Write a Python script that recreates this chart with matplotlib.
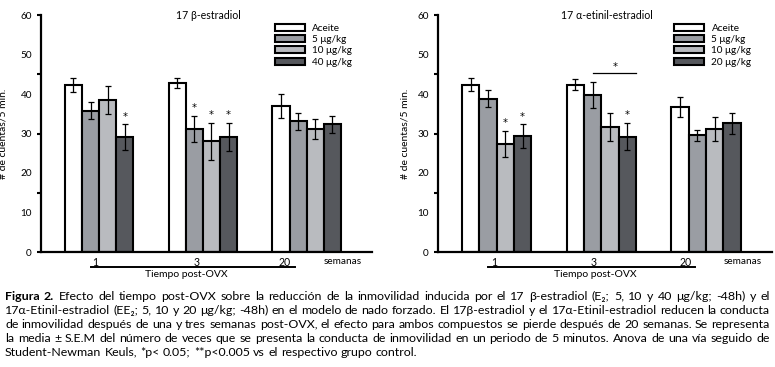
import numpy as np
import matplotlib
matplotlib.use('Agg')
import matplotlib.pyplot as plt
import matplotlib.transforms as mtransforms

plt.rcParams['font.family'] = ['Lato', 'DejaVu Sans']

# weeks after OVX
weeks = ['1', '3', '20']

# 17 beta-estradiol panel
e2_labels = ['Aceite', '5 μg/kg', '10 μg/kg', '40 μg/kg']
e2_aceite = [42.3, 42.8, 37.0]
e2_aceite_err = [1.7, 1.2, 3.0]
e2_5 = [35.8, 31.1, 33.1]
e2_5_err = [2.1, 3.3, 2.2]
e2_10 = [38.5, 28.0, 31.1]
e2_10_err = [3.5, 4.7, 2.6]
e2_40 = [29.0, 29.1, 32.3]
e2_40_err = [3.3, 3.5, 2.2]
e2_stars = [(0, 3), (1, 1), (1, 2), (1, 3)]   # (week index, dose index)

# 17 alpha-etinil-estradiol panel
ee2_labels = ['Aceite', '5 μg/kg', '10 μg/kg', '20 μg/kg']
ee2_aceite = [42.4, 42.4, 36.8]
ee2_aceite_err = [1.6, 1.4, 2.5]
ee2_5 = [38.8, 39.8, 29.5]
ee2_5_err = [2.2, 3.3, 1.5]
ee2_10 = [27.4, 31.6, 31.1]
ee2_10_err = [3.3, 3.5, 3.0]
ee2_20 = [29.3, 29.2, 32.6]
ee2_20_err = [3.0, 3.5, 2.7]
ee2_stars = [(0, 2), (0, 3), (1, 3)]
ee2_bracket = (1, 1, 3, 45.2)   # week, first dose, last dose, height

COLORS = ['#ffffff', '#9a9da3', '#b9bbbf', '#56585d']
BAR_W = 0.165
TXT = 7.2

caption = [
    ['**Figura', '**2.', 'Efecto', 'del', 'tiempo', 'post-OVX', 'sobre', 'la', 'reducción', 'de', 'la',
     'inmovilidad', 'inducida', 'por', 'el', '17', 'β-estradiol', '(E₂;', '5,', '10', 'y', '40',
     'μg/kg;', '-48h)', 'y', 'el'],
    ['17α-Etinil-estradiol', '(EE₂;', '5,', '10', 'y', '20', 'μg/kg;', '-48h)', 'en', 'el', 'modelo',
     'de', 'nado', 'forzado.', 'El', '17β-estradiol', 'y', 'el', '17α-Etinil-estradiol', 'reducen',
     'la', 'conducta'],
    ['de', 'inmovilidad', 'después', 'de', 'una', 'y', 'tres', 'semanas', 'post-OVX,', 'el', 'efecto',
     'para', 'ambos', 'compuestos', 'se', 'pierde', 'después', 'de', '20', 'semanas.', 'Se',
     'representa'],
    ['la', 'media', '±', 'S.E.M', 'del', 'número', 'de', 'veces', 'que', 'se', 'presenta', 'la',
     'conducta', 'de', 'inmovilidad', 'en', 'un', 'periodo', 'de', '5', 'minutos.', 'Anova', 'de',
     'una', 'vía', 'seguido', 'de'],
    ['Student-Newman', 'Keuls,', '*p<', '0.05;', '**p<0.005', 'vs', 'el', 'respectivo', 'grupo',
     'control.'],
]


def panel(ax, title, labels, means, errs, stars, tick_pos, tiempo_x, bracket=None):
    x = np.arange(len(weeks))
    for i, (m, e) in enumerate(zip(means, errs)):
        xi = x + (i - 1.5) * BAR_W
        ax.bar(xi, m, width=BAR_W, color=COLORS[i], edgecolor='black', linewidth=1.5,
               label=labels[i], zorder=2)
        ax.errorbar(xi, m, yerr=e, fmt='none', ecolor='black', elinewidth=0.9,
                    capsize=2.2, capthick=0.9, zorder=3)
    for g, d in stars:
        top = means[d][g] + errs[d][g]
        ax.text(x[g] + (d - 1.5) * BAR_W, top + 1.2, '*', ha='center', va='baseline',
                fontsize=TXT, family='DejaVu Sans')
    if bracket:
        g, d0, d1, h = bracket
        ax.plot([x[g] + (d0 - 1.5) * BAR_W, x[g] + (d1 - 1.5) * BAR_W + BAR_W / 2], [h, h],
                color='black', lw=0.9)
        ax.text(x[g] + 0.13, h + 0.8, '*', ha='center', va='baseline', fontsize=TXT,
                family='DejaVu Sans')

    ax.set_xlim(-0.56, 2.63)
    ax.set_ylim(0, 60)
    for s in ['top', 'right']:
        ax.spines[s].set_visible(False)
    for s in ['left', 'bottom']:
        ax.spines[s].set_linewidth(1.6)

    # labels every 10, tick marks every 15
    ax.yaxis.remove_overlapping_locs = False
    ax.set_yticks(np.arange(0, 61, 10))
    ax.set_yticklabels([str(v) for v in range(0, 61, 10)])
    ax.set_yticks([0, 15, 30, 45, 60], minor=True)
    ax.tick_params(axis='y', which='major', length=0, pad=6.5, labelsize=TXT)
    ax.tick_params(axis='y', which='minor', length=3, width=1.5, direction='out')
    ax.set_xticks(tick_pos)
    ax.set_xticklabels(weeks)
    ax.tick_params(axis='x', length=0, pad=3.5, labelsize=TXT + 0.4)

    ax.set_ylabel('# de cuentas/5 min.', fontsize=TXT + 0.3)
    ax.text(1.05, 60, title, ha='center', va='center', fontsize=TXT + 0.4)

    tr = mtransforms.blended_transform_factory(ax.transData, ax.transAxes)
    ax.text(2.35, -0.038, 'semanas', transform=tr, ha='center', va='center', fontsize=TXT)
    ax.plot([-0.08, 1.89], [-0.063, -0.063], transform=tr, color='black', lw=1.4,
            clip_on=False)
    ax.text(tiempo_x, -0.097, 'Tiempo post-OVX', transform=tr, ha='center', va='center',
            fontsize=TXT + 0.3)

    leg = ax.legend(loc='upper left', bbox_to_anchor=(0.708, 0.962), frameon=False,
                    fontsize=TXT, handlelength=3.0, handleheight=0.7, labelspacing=0.22,
                    handletextpad=0.7, borderpad=0, borderaxespad=0)
    for p in leg.get_patches():
        p.set_linewidth(1.5)


fig = plt.figure(figsize=(7.75, 3.67), dpi=100)
ax1 = fig.add_axes([41 / 775, 1 - 252 / 367, 331 / 775, 237 / 367])
ax2 = fig.add_axes([438 / 775, 1 - 252 / 367, 334 / 775, 237 / 367])

panel(ax1, '17 β-estradiol', e2_labels,
      [e2_aceite, e2_5, e2_10, e2_40],
      [e2_aceite_err, e2_5_err, e2_10_err, e2_40_err],
      e2_stars, [-0.04, 0.94, 1.79], 0.84)
panel(ax2, '17 α-etinil-estradiol', ee2_labels,
      [ee2_aceite, ee2_5, ee2_10, ee2_20],
      [ee2_aceite_err, ee2_5_err, ee2_10_err, ee2_20_err],
      ee2_stars, [-0.02, 0.93, 1.80], 0.94, bracket=ee2_bracket)
ax1.yaxis.set_label_coords(-0.10, 0.5)
ax2.yaxis.set_label_coords(-0.084, 0.5)

# justified caption, word by word
fig.canvas.draw()
renderer = fig.canvas.get_renderer()
x_left, x_right = 5 / 775, 770 / 775
for li, words in enumerate(caption):
    y = 1 - (296 + li * 14) / 367
    texts = []
    for w in words:
        bold = w.startswith('**') and not w.startswith('**p')
        s = w[2:] if bold else w
        t = fig.text(0, y, s, fontsize=8.9, va='center', ha='left',
                     fontweight='bold' if bold else 'normal')
        texts.append(t)
    widths = [t.get_window_extent(renderer).width / fig.bbox.width for t in texts]
    if li < len(caption) - 1:
        gap = max((x_right - x_left - sum(widths)) / (len(texts) - 1), 2.0 / 775)
    else:
        gap = 3.3 / 775
    xpos = x_left
    for t, wdt in zip(texts, widths):
        t.set_x(xpos)
        xpos += wdt + gap

fig.savefig('out.png', dpi=100)
